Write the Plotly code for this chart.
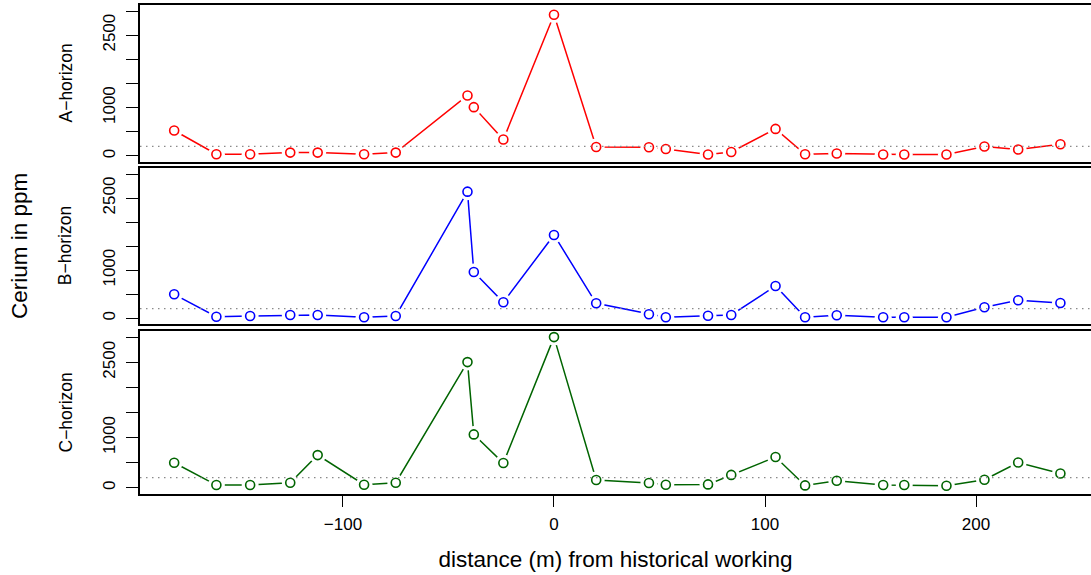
import plotly.graph_objects as go

# distance (m) from historical working
distance = [-180, -160, -144, -125, -112, -90, -75, -41, -38, -24, 0, 20, 45, 53,
            73, 84, 105, 119, 134, 156, 166, 186, 204, 220, 240]

# Cerium (ppm) per horizon
a_horizon = [527, 35, 35, 70, 70, 35, 70, 1252, 1010, 340, 2923, 187, 180, 145,
             29, 83, 560, 35, 50, 29, 29, 29, 195, 133, 243]
b_horizon = [499, 33, 48, 69, 69, 21, 48, 2633, 963, 333, 1733, 312, 83, 21,
             54, 69, 672, 21, 62, 21, 21, 21, 229, 374, 318]
c_horizon = [498, 53, 53, 100, 651, 60, 100, 2505, 1063, 492, 3003, 153, 93, 60,
             66, 256, 612, 46, 140, 53, 53, 40, 159, 504, 285]

panel_names = ["A\u2212horizon", "B\u2212horizon", "C\u2212horizon"]
panel_colors = ["#FF0000", "#0000FF", "#006400"]
background_level = 200

y_ticks = [0, 500, 1000, 1500, 2000, 2500, 3000]
y_ticktext = ["0", "", "1000", "", "", "2500", ""]
x_ticks = [-100, 0, 100, 200]
x_ticktext = ["\u2212100", "0", "100", "200"]

FONT = "Liberation Sans, Arial, Helvetica, sans-serif"
H = 575
top_m, bot_m = 5, 81
plot_h = H - top_m - bot_m  # 489

def frac(py):
    return (H - bot_m - py) / plot_h

domains = [
    [frac(162), 1.0],
    [frac(324.3), frac(168)],
    [0.0, frac(331)],
]

fig = go.Figure()
series = [a_horizon, b_horizon, c_horizon]
for i, vals in enumerate(series):
    n = i + 1
    xa = "x" if n == 1 else f"x{n}"
    ya = "y" if n == 1 else f"y{n}"
    col = panel_colors[i]
    fig.add_trace(go.Scatter(x=distance, y=vals, mode="lines",
                             line=dict(color=col, width=1.5),
                             xaxis=xa, yaxis=ya, showlegend=False, hoverinfo="skip"))
    fig.add_trace(go.Scatter(x=distance, y=vals, mode="markers",
                             marker=dict(symbol="circle", size=17, color="white",
                                         line=dict(width=0)),
                             xaxis=xa, yaxis=ya, showlegend=False, hoverinfo="skip"))
    fig.add_trace(go.Scatter(x=distance, y=vals, mode="markers",
                             marker=dict(symbol="circle", size=9, color="white",
                                         line=dict(color=col, width=1.6)),
                             xaxis=xa, yaxis=ya, showlegend=False))
    fig.add_shape(type="line", xref=f"{xa} domain", yref=ya,
                  x0=0, x1=1, y0=background_level, y1=background_level,
                  line=dict(color="#8a8a8a", width=1.3, dash="1.5px,4.5px"), layer="above")
    fig.add_annotation(text=panel_names[i], xref="paper", yref=f"{ya} domain",
                       x=0, y=0.5, xanchor="center", yanchor="middle",
                       xshift=-75, textangle=-90, showarrow=False,
                       font=dict(family=FONT, size=17.5, color="black"))

    xkey = "xaxis" if n == 1 else f"xaxis{n}"
    ykey = "yaxis" if n == 1 else f"yaxis{n}"
    is_bottom = (n == 3)
    fig.update_layout(**{
        xkey: dict(domain=[0, 1], range=[-196.2, 254.5], anchor=ya,
                   showline=True, mirror=True, linecolor="black", linewidth=1.5,
                   showgrid=False, zeroline=False,
                   tickmode="array", tickvals=x_ticks if is_bottom else [],
                   ticktext=x_ticktext if is_bottom else [],
                   ticks="outside" if is_bottom else "", ticklen=11, tickwidth=1.2,
                   tickcolor="black",
                   showticklabels=is_bottom,
                   ticklabelstandoff=3,
                   tickfont=dict(family=FONT, size=17, color="black"),
                   matches=None if n == 1 else "x",
                   title=dict(text="distance (m) from historical working" if is_bottom else "",
                              font=dict(family=FONT, size=22.5, color="black"),
                              standoff=18)),
        ykey: dict(domain=domains[i], range=[-125, 3125], anchor=xa,
                   showline=True, mirror=False, linecolor="black", linewidth=1.5,
                   showgrid=False, zeroline=False,
                   tickmode="array", tickvals=y_ticks, ticktext=y_ticktext,
                   ticks="outside", ticklen=12, tickwidth=1.2, tickcolor="black",
                   tickangle=-90, ticklabelstandoff=4,
                   tickfont=dict(family=FONT, size=17, color="black")),
    })

fig.add_annotation(text="Cerium in ppm", xref="paper", yref="paper",
                   x=0, y=frac(246), xanchor="center", yanchor="middle",
                   xshift=-121, textangle=-90, showarrow=False,
                   font=dict(family=FONT, size=22.5, color="black"))

fig.update_layout(width=1091, height=575,
                  margin=dict(l=140, r=0, t=top_m, b=bot_m, autoexpand=False),
                  paper_bgcolor="white", plot_bgcolor="white",
                  font=dict(family=FONT, color="black"),
                  hovermode="closest")

fig.write_html("out.html", config={"displayModeBar": False},
               post_script="document.body.style.margin='0';document.body.style.overflow='hidden';")
